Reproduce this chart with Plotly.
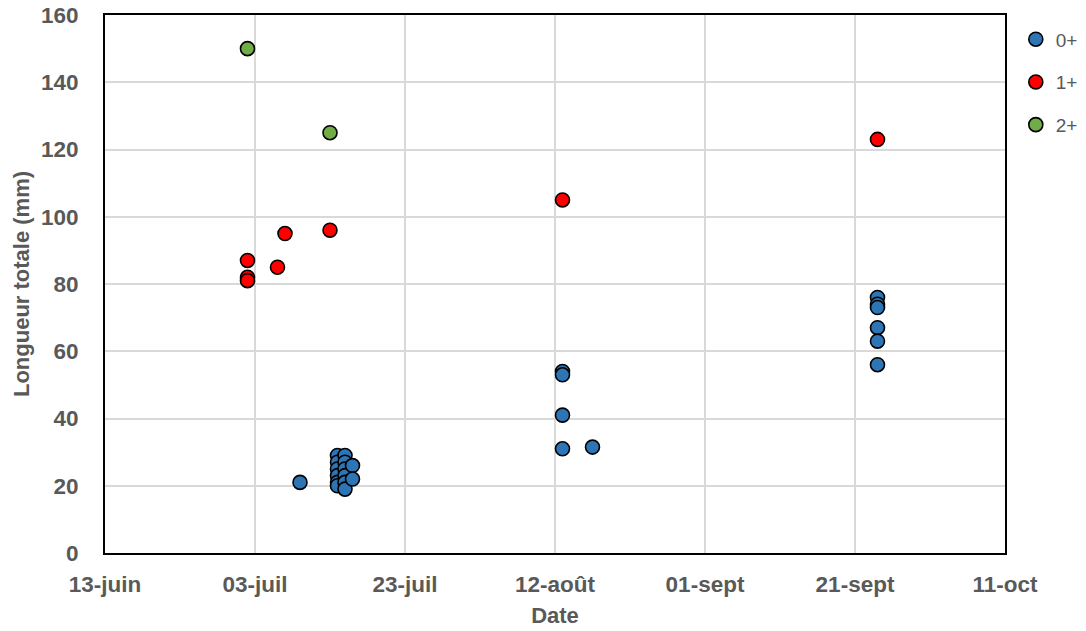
import plotly.graph_objects as go

# 0+ series
d0_dates = ["2023-07-09",
            "2023-07-14", "2023-07-14", "2023-07-14", "2023-07-14", "2023-07-14", "2023-07-14",
            "2023-07-15", "2023-07-15", "2023-07-15", "2023-07-15", "2023-07-15", "2023-07-15",
            "2023-07-16", "2023-07-16",
            "2023-08-13", "2023-08-13", "2023-08-13", "2023-08-13", "2023-08-17",
            "2023-09-24", "2023-09-24", "2023-09-24", "2023-09-24", "2023-09-24", "2023-09-24"]
d0_vals = [21,
           29, 27, 25, 23, 21, 20,
           29, 27, 25, 23, 21, 19,
           26, 22,
           54, 53, 41, 31, 31.5,
           76, 74, 73, 67, 63, 56]

# 1+ series
d1_dates = ["2023-07-02", "2023-07-02", "2023-07-02", "2023-07-06", "2023-07-07",
            "2023-07-13", "2023-08-13", "2023-09-24"]
d1_vals = [87, 82, 81, 85, 95, 96, 105, 123]

# 2+ series
d2_dates = ["2023-07-02", "2023-07-13"]
d2_vals = [150, 125]

tick_dates = ["2023-06-13", "2023-07-03", "2023-07-23", "2023-08-12",
              "2023-09-01", "2023-09-21", "2023-10-11"]
tick_labels = ["13-juin", "03-juil", "23-juil", "12-août", "01-sept", "21-sept", "11-oct"]

series = [
    ("0+", d0_dates, d0_vals, "#2E75B6"),
    ("1+", d1_dates, d1_vals, "#FF0000"),
    ("2+", d2_dates, d2_vals, "#70AD47"),
]

fig = go.Figure()
for name, xs, ys, col in series:
    fig.add_trace(go.Scatter(
        x=xs, y=ys, mode="markers", name=name, legendgroup=name,
        marker=dict(size=14, color=col, line=dict(color="black", width=1.6)),
    ))

font_fam = "Liberation Sans, Arial, sans-serif"
grey = "#595959"

fig.update_layout(
    width=1086, height=631,
    margin=dict(l=105, r=81, t=15, b=78, autoexpand=False),
    plot_bgcolor="white", paper_bgcolor="white",
    font=dict(family=font_fam, color=grey, size=20),
    showlegend=True,
    legend=dict(x=1.012, y=0.99, xanchor="left", yanchor="top",
                font=dict(size=19, color=grey), itemsizing="trace",
                tracegroupgap=15, bgcolor="rgba(0,0,0,0)"),
    xaxis=dict(
        type="date", range=["2023-06-13", "2023-10-11"], automargin=False,
        tickmode="array", tickvals=tick_dates, ticktext=tick_labels,
        showgrid=True, gridcolor="#d9d9d9", gridwidth=2,
        showline=True, linecolor="black", linewidth=2, mirror=True,
        ticks="", zeroline=False, ticklabeloverflow="allow",
        tickfont=dict(size=22.5, color=grey, family=font_fam, weight="bold"),
        title=dict(text="Date", font=dict(size=22, color=grey, weight="bold"), standoff=12),
    ),
    yaxis=dict(
        range=[0, 160], dtick=20, automargin=False,
        showgrid=True, gridcolor="#d9d9d9", gridwidth=2,
        showline=True, linecolor="black", linewidth=2, mirror=True,
        ticks="", zeroline=False, ticklabeloverflow="allow",
        tickfont=dict(size=22.5, color=grey, family=font_fam, weight="bold"),
        title=dict(text="Longueur totale (mm)", font=dict(size=22, color=grey, weight="bold"), standoff=5),
    ),
)
fig.update_xaxes(ticklabelstandoff=10)
fig.update_yaxes(ticklabelstandoff=20)

fig.write_html("out.html", config={"displayModeBar": False},
               post_script="document.body.style.margin='0px';document.body.style.overflow='hidden';")
